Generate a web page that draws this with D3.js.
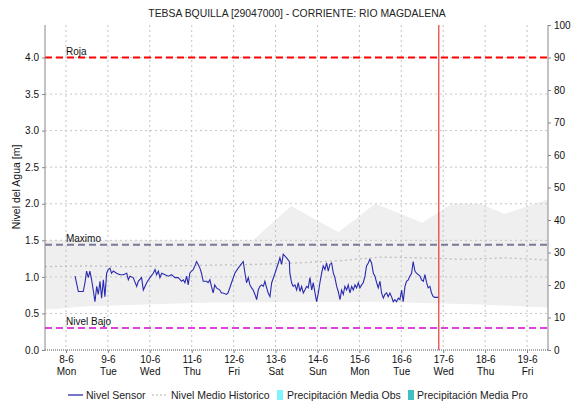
<!DOCTYPE html>
<html>
<head>
<meta charset="utf-8">
<script src="https://cdn.jsdelivr.net/npm/d3@7"></script>
<style>
  body { margin: 0; background: #fff; }
  svg { display: block; font-family: "Liberation Sans", Arial, sans-serif; }
</style>
</head>
<body>
<svg id="chart" width="572" height="401"></svg>
<script>
// Station series, hours counted from 8 Jun 2015 00:00
const titleText = "TEBSA BQUILLA [29047000] - CORRIENTE: RIO MAGDALENA";
const yLabel = "Nivel del Agua [m]";

const sensorHours = [5.2,7.1,9.9,10.9,11.8,12.8,13.7,14.7,15.6,16.6,17.6,18.5,19.5,20.4,21.4,22.3,23.3,24.2,25.2,26.1,27.1,29.0,30.9,32.8,34.8,35.7,36.6,38.5,40.5,41.4,43.3,44.3,46.2,48.1,50.0,51.0,51.9,52.9,53.8,54.8,56.7,58.6,60.5,62.4,64.3,66.2,67.2,68.1,69.1,70.0,70.9,71.9,72.9,73.8,74.8,75.7,76.7,77.6,78.6,80.5,81.4,82.4,83.3,84.3,85.2,86.2,88.1,89.0,90.0,91.9,92.8,94.8,96.7,98.6,
  99.6,101.5,102.5,103.4,104.4,105.3,106.3,107.2,108.2,109.2,110.1,111.1,112.0,113.0,113.9,114.9,115.8,116.8,117.8,119.7,121.6,122.5,123.5,124.4,126.3,127.9,128.2,129.2,130.1,131.1,132.1,133.0,134.0,134.9,135.9,136.8,137.8,138.7,139.7,140.7,141.6,142.6,143.5,144.5,145.4,146.4,147.3,148.3,149.2,150.2,151.1,152.1,153.1,154.0,155.0,155.9,156.9,157.8,158.8,159.7,160.7,161.6,162.6,163.6,164.5,165.5,166.4,167.4,168.3,169.3,170.2,171.2,172.1,173.1,174.0,175.0,176.0,176.9,177.9,178.8,179.8,180.7,181.7,182.6,183.6,184.5,185.5,186.4,187.4,188.3,189.3,190.3,191.2,192.2,193.1,194.1,195.0,196.0,196.9,197.9,198.8,199.8,200.7,201.7,202.7,203.6,204.6,205.5,206.5,207.4,208.4,209.3,210.3,211.2,213.1];
const sensorLevel = [1.01,0.80,0.80,0.92,1.08,0.99,1.08,0.96,0.82,0.66,0.87,0.76,0.94,0.71,0.96,0.73,1.05,1.10,1.12,1.05,1.08,1.05,1.03,1.03,1.05,0.96,1.01,0.99,0.87,0.94,0.99,0.82,0.92,0.99,1.05,1.10,1.03,1.08,0.99,1.05,1.03,1.01,1.03,0.99,0.99,0.94,0.96,0.92,1.01,0.89,1.05,1.08,1.10,1.15,1.21,1.17,1.12,1.05,0.94,0.94,0.92,0.96,0.87,0.78,0.89,0.85,0.82,0.78,0.78,0.76,0.78,0.92,1.05,1.12,
  1.15,1.21,1.05,0.92,0.99,0.89,0.85,0.82,0.76,0.69,0.82,0.87,0.89,0.87,0.94,0.85,0.78,0.73,0.92,1.05,1.19,1.26,1.17,1.31,1.26,1.21,1.05,0.92,0.87,0.89,0.82,0.92,0.80,0.87,0.78,0.82,0.87,0.85,0.99,0.82,0.92,0.78,0.66,0.78,0.92,1.05,1.15,1.10,1.19,1.08,1.17,1.19,1.05,0.99,0.87,0.80,0.69,0.82,0.76,0.87,0.82,0.89,0.78,0.87,0.82,0.89,0.85,0.92,0.85,0.89,0.92,1.01,1.15,1.19,1.24,1.19,1.05,1.01,0.92,0.85,0.94,0.78,0.71,0.76,0.78,0.73,0.78,0.73,0.66,0.69,0.66,0.71,0.69,0.82,0.66,0.87,0.94,0.96,1.01,1.05,1.21,1.08,1.05,1.03,1.01,0.96,0.94,1.03,0.92,0.85,0.87,0.78,0.73,0.72,0.72];

// Historical envelope (min / max) and historical mean
const bandHours = [-12, 107, 129, 156, 177, 204, 221, 237, 251, 276];
const bandUpper = [1.50, 1.50, 1.97, 1.61, 2.00, 1.74, 2.00, 2.00, 1.86, 2.06];
const lowerHours = [-12, 12, 84, 180, 240, 276];
const bandLower = [0.55, 0.60, 0.65, 0.66, 0.62, 0.58];
const meanHours = [-12, 12, 36, 60, 84, 108, 132, 156, 180, 204, 228, 252, 276];
const meanLevel = [1.14, 1.15, 1.14, 1.15, 1.16, 1.17, 1.19, 1.22, 1.27, 1.26, 1.24, 1.26, 1.23];

// Reference levels
const thresholdNames = ["Roja", "Maximo", "Nivel Bajo"];
const thresholdLevels = [4.0, 1.44, 0.30];
const thresholdColors = ["#ff0000", "#7a7a96", "#e040e0"];

const leftTicks = [0, 0.5, 1.0, 1.5, 2.0, 2.5, 3.0, 3.5, 4.0];
const rightTicks = [0, 10, 20, 30, 40, 50, 60, 70, 80, 90, 100];
const nowHour = 213.5;

const legendNames = ["Nivel Sensor", "Nivel Medio Historico", "Precipitación Media Obs", "Precipitación Media Pro"];

const base = new Date(2015, 5, 8, 0, 0);
const t = h => new Date(base.getTime() + h * 3600000);

const svg = d3.select("#chart");
const m = { left: 45, right: 548, top: 25, bottom: 350 };

const x = d3.scaleTime().domain([t(-12), t(276)]).range([m.left, m.right]);
const y = d3.scaleLinear().domain([0, 40 / 9]).range([m.bottom, m.top]);
const yR = d3.scaleLinear().domain([0, 100]).range([m.bottom, m.top]);

// envelope
const upperFn = d3.scaleLinear().domain(bandHours).range(bandUpper);
const lowerFn = d3.scaleLinear().domain(lowerHours).range(bandLower);
const envHours = Array.from(new Set([...bandHours, ...lowerHours])).sort((a, b) => a - b);
svg.append("path")
  .datum(envHours)
  .attr("fill", "#efefef")
  .attr("d", d3.area().x(h => x(t(h))).y0(h => y(lowerFn(h))).y1(h => y(upperFn(h))));

// grid
const days = d3.timeDay.range(t(0), t(277));
svg.append("g").selectAll("line").data(days).join("line")
  .attr("x1", d => x(d)).attr("x2", d => x(d))
  .attr("y1", m.top).attr("y2", m.bottom)
  .attr("stroke", "#c4c4c4").attr("stroke-dasharray", "2,3");
svg.append("g").selectAll("line").data(leftTicks.filter(v => v > 0)).join("line")
  .attr("x1", m.left).attr("x2", m.right)
  .attr("y1", d => y(d)).attr("y2", d => y(d))
  .attr("stroke", "#c4c4c4").attr("stroke-dasharray", "2,3");

// historical mean
svg.append("path")
  .datum(meanHours.map((h, i) => [h, meanLevel[i]]))
  .attr("fill", "none").attr("stroke", "#bdbdbd").attr("stroke-width", 1.3)
  .attr("stroke-dasharray", "2,3")
  .attr("d", d3.line().x(d => x(t(d[0]))).y(d => y(d[1])));

// thresholds
thresholdLevels.forEach((v, i) => {
  svg.append("line")
    .attr("x1", m.left).attr("x2", m.right)
    .attr("y1", y(v)).attr("y2", y(v))
    .attr("stroke", thresholdColors[i]).attr("stroke-width", 2)
    .attr("stroke-dasharray", "7,4");
  svg.append("text")
    .attr("x", x(t(0))).attr("y", y(v) - 3)
    .attr("font-size", 10).attr("fill", "#111")
    .text(thresholdNames[i]);
});

// sensor series
svg.append("path")
  .datum(sensorHours.map((h, i) => [h, sensorLevel[i]]))
  .attr("fill", "none").attr("stroke", "#2a2ab0").attr("stroke-width", 1.1)
  .attr("d", d3.line().x(d => x(t(d[0]))).y(d => y(d[1])));

// current time marker
svg.append("line")
  .attr("x1", x(t(nowHour))).attr("x2", x(t(nowHour)))
  .attr("y1", m.top).attr("y2", m.bottom)
  .attr("stroke", "#e01010").attr("stroke-width", 1);

// axes frame
svg.append("line").attr("x1", m.left).attr("x2", m.left).attr("y1", m.top).attr("y2", m.bottom).attr("stroke", "#888");
svg.append("line").attr("x1", m.right).attr("x2", m.right).attr("y1", m.top).attr("y2", m.bottom).attr("stroke", "#888");
svg.append("line").attr("x1", m.left).attr("x2", m.right).attr("y1", m.bottom).attr("y2", m.bottom)
  .attr("stroke", "#555").attr("stroke-dasharray", "1,1");

// left axis
const gl = svg.append("g").attr("transform", `translate(${m.left},0)`)
  .call(d3.axisLeft(y).tickValues(leftTicks).tickFormat(d3.format(".1f")).tickSize(3).tickPadding(3));
// right axis
const gr = svg.append("g").attr("transform", `translate(${m.right},0)`)
  .call(d3.axisRight(yR).tickValues(rightTicks).tickSize(3).tickPadding(3));
// bottom axis
const gb = svg.append("g").attr("transform", `translate(0,${m.bottom})`)
  .call(d3.axisBottom(x).tickValues(days).tickSize(3).tickFormat(d3.timeFormat("%-d-%-m")).tickPadding(3));
gb.selectAll(".tick").append("text")
  .attr("y", 18).attr("dy", "0.71em").attr("fill", "#111")
  .text(d => d3.timeFormat("%a")(d));
[gl, gr, gb].forEach(g => {
  g.select(".domain").remove();
  g.selectAll(".tick line").attr("stroke", "#888");
  g.selectAll("text").attr("font-size", 10).attr("fill", "#111")
    .attr("font-family", "'Liberation Sans', Arial, sans-serif");
});

// title and axis label
svg.append("text").attr("x", 297).attr("y", 17).attr("text-anchor", "middle")
  .attr("font-size", 10.4).attr("fill", "#222").text(titleText);
svg.append("text").attr("transform", "translate(20,187) rotate(-90)")
  .attr("text-anchor", "middle").attr("font-size", 10.5).attr("fill", "#111").text(yLabel);

// legend
const lg = svg.append("g").attr("font-size", 10.5).attr("fill", "#222");
const ly = 395;
lg.append("line").attr("x1", 68).attr("x2", 83).attr("y1", ly).attr("y2", ly).attr("stroke", "#2a2ab0").attr("stroke-width", 1.3);
lg.append("text").attr("x", 86).attr("y", ly + 4).text(legendNames[0]);
lg.append("line").attr("x1", 152).attr("x2", 167).attr("y1", ly).attr("y2", ly).attr("stroke", "#b0b0b0").attr("stroke-dasharray", "2,2");
lg.append("text").attr("x", 171).attr("y", ly + 4).text(legendNames[1]);
lg.append("rect").attr("x", 277).attr("y", ly - 5).attr("width", 6).attr("height", 10).attr("fill", "#7ff4ff");
lg.append("text").attr("x", 287).attr("y", ly + 4).text(legendNames[2]);
lg.append("rect").attr("x", 408).attr("y", ly - 5).attr("width", 6).attr("height", 10).attr("fill", "#3fbfbf");
lg.append("text").attr("x", 417).attr("y", ly + 4).text(legendNames[3]);
</script>
</body>
</html>
